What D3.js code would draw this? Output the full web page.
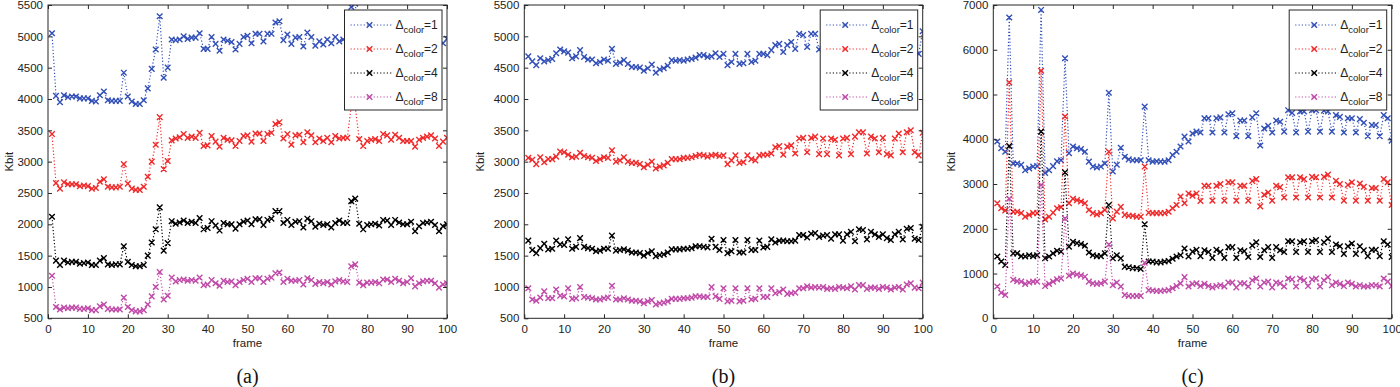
<!DOCTYPE html>
<html><head><meta charset="utf-8">
<script src="https://cdn.jsdelivr.net/npm/d3@7"></script>
<style>body{margin:0;background:#fff} svg{display:block}</style>
</head><body><svg id="chart" width="1400" height="387"></svg>
<script>
// ---------------- data ----------------
const frames = d3.range(1, 101);
const seriesNames = ["1", "2", "4", "8"];
const xTickValues = [0,10,20,30,40,50,60,70,80,90,100];
const yTicksAB = [500,1000,1500,2000,2500,3000,3500,4000,4500,5000,5500];
const yTicksC = [0,1000,2000,3000,4000,5000,6000,7000];
const captions = ["(a)", "(b)", "(c)"];

const a1 = [5050,4050,3950,4060,4030,4040,4040,4010,4010,4010,
3970,3960,4060,4120,3980,3970,3970,3970,4420,4040,
3960,3920,3920,3980,4170,4480,4790,5320,4340,4500,
4950,4940,4950,5000,4960,4980,4980,5050,4800,4800,
4990,4880,4770,4950,4930,4910,4790,4880,4990,5010,
4890,5040,5040,4920,5040,5040,5220,5240,4940,5030,
4880,4980,4990,4840,5060,4990,4850,4920,4870,4950,
4890,4990,4920,4950,4940,5470,5520,4930,4820,4900,
4920,4930,4900,5010,4990,4920,5000,4960,4910,4910,
4920,4810,4920,4950,4960,4980,4930,4810,4890,4960];
const a2 = [3440,2660,2570,2670,2640,2640,2640,2610,2620,2610,
2570,2580,2680,2720,2600,2590,2590,2600,2960,2650,
2570,2550,2550,2600,2760,3000,3270,3710,2880,3010,
3340,3370,3390,3440,3380,3400,3380,3460,3250,3260,
3410,3320,3240,3380,3350,3340,3250,3330,3410,3420,
3320,3450,3450,3330,3440,3460,3600,3630,3370,3440,
3270,3420,3430,3310,3470,3420,3310,3370,3330,3380,
3310,3410,3370,3380,3380,3880,3880,3360,3250,3330,
3350,3360,3330,3440,3420,3350,3430,3380,3330,3330,
3330,3240,3350,3380,3400,3420,3370,3250,3320,3380];
const a4 = [2120,1420,1350,1420,1390,1400,1400,1370,1380,1390,
1350,1350,1420,1460,1360,1350,1360,1360,1650,1400,
1350,1330,1330,1350,1500,1710,1920,2270,1580,1700,
2050,2010,2030,2060,2020,2040,2020,2100,1920,1940,
2050,1980,1900,2020,2000,2000,1930,2000,2040,2060,
2000,2080,2080,1990,2070,2090,2210,2210,2020,2070,
1990,2040,2050,1950,2090,2050,1960,2010,1990,2000,
1950,2020,2060,2020,2020,2370,2410,2010,1920,1990,
2000,2010,1980,2070,2060,1990,2070,2030,2000,2000,
2040,1890,1970,2020,2030,2040,1990,1890,1970,2000];
const a8 = [1180,680,640,670,660,670,670,650,650,660,
630,630,690,720,650,640,640,640,830,680,
630,610,610,630,720,850,1000,1240,800,860,
1150,1090,1110,1120,1100,1110,1100,1150,1030,1040,
1110,1060,1020,1100,1080,1090,1030,1080,1110,1130,
1080,1140,1140,1080,1130,1150,1220,1230,1080,1130,
1100,1100,1110,1040,1140,1110,1050,1080,1060,1080,
1040,1090,1110,1090,1080,1330,1360,1070,1030,1070,
1070,1080,1060,1120,1120,1080,1130,1100,1060,1080,
1140,1010,1060,1090,1100,1100,1060,990,1040,1060];

const b1 = [4680,4600,4540,4650,4600,4620,4640,4730,4790,4760,
4740,4650,4680,4780,4670,4630,4630,4570,4590,4630,
4610,4800,4560,4580,4620,4560,4510,4510,4500,4450,
4490,4550,4420,4470,4490,4530,4620,4610,4620,4610,
4630,4640,4660,4700,4700,4670,4680,4730,4670,4720,
4540,4590,4720,4560,4570,4720,4590,4610,4720,4720,
4700,4780,4860,4880,4750,4860,4910,4800,5040,5020,
4830,5040,5040,4790,4980,4800,5000,4980,4790,5000,
5010,4800,5030,5100,5100,4810,5030,5000,4830,5010,
4800,4790,5000,5080,4830,5100,5130,4830,4720,5080];
const b2 = [3060,3030,2960,3070,2990,3040,3040,3080,3160,3150,
3110,3070,3080,3140,3090,3070,3060,3010,3040,3070,
3060,3180,3000,3020,3070,3000,2980,2980,2960,2910,
2950,3000,2890,2920,2940,2980,3040,3040,3040,3060,
3060,3070,3090,3110,3100,3080,3100,3110,3090,3100,
2960,3020,3100,2980,2990,3100,3040,3020,3100,3110,
3110,3130,3230,3250,3110,3240,3260,3130,3370,3380,
3150,3380,3400,3120,3370,3120,3370,3350,3100,3370,
3380,3120,3400,3470,3470,3130,3400,3370,3150,3380,
3120,3100,3370,3450,3150,3470,3500,3150,3100,3460];
const b4 = [1740,1590,1540,1620,1690,1600,1610,1740,1680,1670,
1760,1610,1640,1780,1640,1620,1610,1570,1580,1610,
1610,1820,1580,1590,1600,1580,1550,1550,1540,1500,
1540,1570,1490,1510,1520,1550,1600,1600,1600,1610,
1610,1620,1650,1650,1640,1630,1770,1640,1590,1750,
1540,1570,1750,1550,1550,1750,1590,1590,1740,1630,
1640,1760,1710,1740,1740,1730,1730,1740,1830,1830,
1790,1850,1860,1800,1820,1830,1770,1840,1840,1740,
1840,1880,1730,1920,1910,1760,1880,1840,1800,1840,
1780,1750,1840,1880,1760,1930,1940,1770,1750,1960];
const b8 = [980,800,780,830,930,820,820,960,860,850,
980,810,820,1000,840,830,820,800,800,820,
830,1020,800,800,820,800,780,780,770,740,
770,790,720,740,750,770,810,810,810,820,
820,830,850,850,840,840,1000,850,810,980,
770,780,980,770,780,980,800,810,980,840,
840,980,900,920,960,890,900,910,980,980,
1010,990,1000,990,1000,970,980,970,1000,990,
980,1010,960,1030,1030,970,990,990,970,1000,
990,960,990,1000,960,1040,1060,990,980,1070];

const c1 = [3950,3800,3720,6720,3460,3460,3430,3310,3350,3390,
3400,6890,3250,3310,3400,3510,3530,5810,3690,3840,
3800,3780,3720,3500,3390,3370,3390,3460,5040,3280,
3430,3810,3610,3550,3530,3530,3530,4730,3530,3500,
3510,3500,3500,3530,3650,3720,3840,4060,3950,4130,
4170,4150,4470,4470,4150,4470,4490,4150,4560,4580,
4070,4420,4420,4070,4490,4580,3860,4240,4300,4150,
4420,4390,4170,4650,4590,4150,4620,4620,4170,4650,
4650,4170,4640,4620,4170,4540,4500,4150,4470,4470,
4150,4450,4370,4070,4320,4320,4070,4540,4470,3970];
const c2 = [2570,2460,2410,5270,2380,2380,2350,2270,2310,2350,
2350,5530,2210,2270,2360,2460,2480,4510,2570,2670,
2640,2610,2570,2420,2350,2320,2350,2420,3720,2230,
2380,2490,2310,2290,2290,2270,2270,3390,2360,2350,
2350,2350,2350,2380,2460,2530,2720,2570,2790,2740,
2790,2620,2960,2960,2630,2960,3000,2630,3040,3040,
2630,2960,2960,2630,3070,3110,2500,2760,2810,2630,
2960,2930,2700,3150,3150,2700,3150,3110,2700,3160,
3150,2700,3160,3210,2700,3070,3000,2630,2980,3040,
2630,3010,2940,2630,2910,2910,2630,3110,3040,2530];
const c4 = [1380,1270,1190,3850,1450,1450,1390,1380,1410,1390,
1410,4170,1340,1380,1450,1510,1490,3260,1600,1710,
1680,1660,1620,1470,1410,1390,1390,1450,2530,1340,
1410,1340,1150,1140,1120,1120,1100,2100,1270,1270,
1250,1250,1270,1280,1330,1380,1410,1560,1380,1490,
1530,1390,1520,1480,1350,1530,1480,1350,1590,1590,
1350,1520,1500,1370,1630,1700,1370,1520,1590,1350,
1590,1520,1480,1720,1720,1480,1700,1720,1480,1720,
1750,1480,1700,1780,1480,1650,1610,1440,1610,1670,
1440,1610,1520,1390,1530,1530,1390,1720,1650,1370];
const c8 = [710,570,520,2670,860,830,820,770,800,820,
820,2980,720,770,820,870,890,2230,950,1000,
980,960,930,820,780,770,780,820,1650,740,
800,710,520,500,500,500,500,1240,630,620,
610,610,620,630,670,720,780,920,710,770,
780,720,770,720,690,720,740,710,800,800,
690,780,780,710,850,890,710,800,820,690,
800,780,710,890,870,710,890,850,720,870,
890,710,850,920,740,800,770,720,800,770,
710,740,710,710,740,740,710,890,820,720];

// ---------------- layout / style ----------------
const colors = ["#3350b8", "#f02a2a", "#000000", "#c04aa8"];
const plotTop = 5, plotBottom = 318.3;
const layout = [
  {left: 48, right: 447, kbitX: 9, data: [a1,a2,a4,a8], yTicks: yTicksAB, yDom: [500,5500]},
  {left: 524.3, right: 922.7, kbitX: 480, data: [b1,b2,b4,b8], yTicks: yTicksAB, yDom: [500,5500]},
  {left: 993.3, right: 1391.7, kbitX: 951, data: [c1,c2,c4,c8], yTicks: yTicksC, yDom: [0,7000]}
];
const sans = "'Liberation Sans', Arial, sans-serif";
const svg = d3.select("#chart");
const defs = svg.append("defs");

function xPath(x, y, r) {
  return `M${x-r},${y-r}L${x+r},${y+r}M${x-r},${y+r}L${x+r},${y-r}`;
}

layout.forEach((p, pi) => {
  const x = d3.scaleLinear().domain([0,100]).range([p.left, p.right]);
  const y = d3.scaleLinear().domain(p.yDom).range([plotBottom, plotTop]);
  const g = svg.append("g");

  defs.append("clipPath").attr("id", "clip" + pi).append("rect")
    .attr("x", p.left).attr("y", plotTop).attr("width", p.right - p.left).attr("height", plotBottom - plotTop);

  // data
  const dg = g.append("g").attr("clip-path", `url(#clip${pi})`);
  const line = d3.line().x((d,i) => x(frames[i])).y(d => y(d));
  p.data.forEach((s, si) => {
    dg.append("path").attr("d", line(s)).attr("fill", "none")
      .attr("stroke", colors[si]).attr("stroke-width", 1.2)
      .attr("stroke-dasharray", "1.2 2.1");
    dg.append("path")
      .attr("d", s.map((v,i) => xPath(x(frames[i]), y(v), 2.8)).join(""))
      .attr("fill", "none").attr("stroke", colors[si]).attr("stroke-width", 1.4);
  });

  // axes
  const axCol = "#262626";
  const fmt = d3.format("d");
  g.append("g").attr("transform", `translate(0,${plotBottom})`)
    .call(d3.axisBottom(x).tickValues(xTickValues).tickFormat(fmt).tickSize(-4).tickPadding(7).tickSizeOuter(0));
  g.append("g").attr("transform", `translate(0,${plotTop})`)
    .call(d3.axisTop(x).tickValues(xTickValues).tickSize(-4).tickFormat("").tickSizeOuter(0));
  g.append("g").attr("transform", `translate(${p.left},0)`)
    .call(d3.axisLeft(y).tickValues(p.yTicks).tickFormat(fmt).tickSize(-4).tickPadding(5).tickSizeOuter(0));
  g.append("g").attr("transform", `translate(${p.right},0)`)
    .call(d3.axisRight(y).tickValues(p.yTicks).tickSize(-4).tickFormat("").tickSizeOuter(0));
  g.selectAll(".domain").remove();
  g.selectAll(".tick line").attr("stroke", axCol);
  g.selectAll(".tick text").attr("fill", "#222").style("font-family", sans).style("font-size", "11.5px");
  g.append("rect").attr("x", p.left).attr("y", plotTop).attr("width", p.right - p.left)
    .attr("height", plotBottom - plotTop).attr("fill", "none").attr("stroke", axCol).attr("stroke-width", 1);

  // labels
  g.append("text").attr("x", (p.left + p.right)/2).attr("y", 347).attr("text-anchor", "middle")
    .style("font-family", sans).style("font-size", "11.5px").attr("fill", "#222").text("frame");
  g.append("text").attr("transform", `translate(${p.kbitX},${(plotTop+plotBottom)/2}) rotate(-90)`)
    .attr("text-anchor", "middle").attr("dy", "0.35em")
    .style("font-family", sans).style("font-size", "11.5px").attr("fill", "#222").text("Kbit");
  g.append("text").attr("x", (p.left + p.right)/2).attr("y", 383).attr("text-anchor", "middle")
    .style("font-family", "'Liberation Serif', 'Times New Roman', serif").style("font-size", "20px")
    .attr("fill", "#111").text(captions[pi]);

  // legend
  const lx = p.right - 102.5, ly = 10, lw = 97.5, lh = 100;
  const lg = g.append("g");
  lg.append("rect").attr("x", lx).attr("y", ly).attr("width", lw).attr("height", lh)
    .attr("fill", "#fff").attr("stroke", axCol).attr("stroke-width", 1);
  seriesNames.forEach((nm, si) => {
    const cy = ly + 15 + si * 24;
    lg.append("line").attr("x1", lx + 6).attr("x2", lx + 49).attr("y1", cy).attr("y2", cy)
      .attr("stroke", colors[si]).attr("stroke-width", 1.2).attr("stroke-dasharray", "1.2 2.1");
    lg.append("path").attr("d", xPath(lx + 25, cy, 2.8)).attr("fill", "none")
      .attr("stroke", colors[si]).attr("stroke-width", 1.4);
    const t = lg.append("text").attr("x", lx + 51).attr("y", cy + 4)
      .style("font-family", sans).style("font-size", "12px").attr("fill", "#222");
    t.append("tspan").text("Δ");
    t.append("tspan").attr("dy", 4).style("font-size", "9.5px").text("color");
    t.append("tspan").attr("dy", -4).text("=" + nm);
  });
});
</script></body></html>
